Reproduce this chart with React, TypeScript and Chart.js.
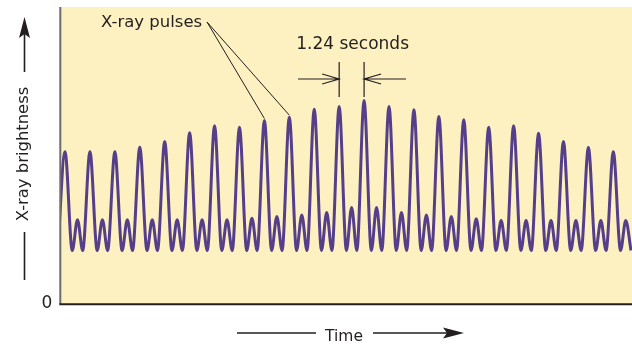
import { useEffect, useRef } from "react";
import { Chart, registerables } from "chart.js";

Chart.register(...registerables);

// Time (s) of each main X-ray pulse peak
const pulseTimes = [
  0.25, 1.49, 2.73, 3.97, 5.21, 6.45, 7.69, 8.93, 10.17, 11.41, 12.65, 13.89,
  15.13, 16.37, 17.61, 18.85, 20.09, 21.33, 22.57, 23.81, 25.05, 26.29, 27.53,
];
// Brightness of each main pulse (0 = bottom axis, 100 = top of plot)
const mainPeaks = [
  51.3, 51.3, 51.3, 52.8, 54.7, 57.7, 60.0, 59.5, 61.8, 62.9, 65.6, 66.5,
  68.5, 66.5, 65.4, 63.1, 62.0, 59.5, 60.0, 57.5, 54.7, 52.7, 51.3,
];
// Brightness of the smaller interpulse following each main pulse
const minorPeaks = [
  28.4, 28.4, 28.4, 28.4, 28.4, 28.4, 28.4, 28.9, 29.5, 30.0, 30.8, 32.5,
  32.5, 30.8, 30.0, 29.5, 28.7, 28.1, 28.1, 28.1, 28.1, 28.1, 28.1,
];
// Brightness at the troughs between pulses (first one precedes the first pulse)
const troughs = [
  18.0, 18.0, 18.0, 18.0, 18.0, 18.0, 18.0, 18.0, 18.0, 18.0, 18.0, 18.0,
  18.0, 18.0, 18.0, 18.0, 18.0, 18.0, 18.0, 18.0, 18.0, 18.0, 18.0, 18.0,
  18.0, 18.0, 18.0, 18.0, 18.0, 18.0, 18.0, 18.0, 18.0, 18.0, 18.0, 18.0,
  18.0, 18.0, 18.0, 18.0, 18.0, 18.0, 18.0, 18.0, 18.0, 18.0, 18.0,
];
const timeMax = 28.46;
const brightnessMax = 100;
const yTickLabels = ["0"];

const BG = "#fdf0c1";
const LINE = "#553f8b";
const INK = "#231f20";
const FONT = '"DejaVu Sans", sans-serif';

function buildPoints() {
  const pts: { x: number; y: number }[] = [];
  pts.push({ x: pulseTimes[0] - 0.36, y: troughs[0] });
  pulseTimes.forEach((t, k) => {
    pts.push({ x: t, y: mainPeaks[k] });
    pts.push({ x: t + 0.36, y: troughs[2 * k + 1] });
    pts.push({ x: t + 0.62, y: minorPeaks[k] });
    pts.push({ x: t + 0.88, y: troughs[2 * k + 2] });
  });
  return pts;
}

const overlay = {
  id: "overlay",
  beforeDatasetsDraw(chart: any) {
    const { ctx, chartArea: a } = chart;
    ctx.save();
    ctx.fillStyle = BG;
    ctx.fillRect(a.left, a.top, a.right - a.left, a.bottom - a.top);
    ctx.restore();
  },
  afterDatasetsDraw(chart: any) {
    const { ctx, chartArea: a, scales } = chart;
    const xs = scales.x;
    const ys = scales.y;
    ctx.save();
    // axes
    ctx.lineWidth = 2;
    ctx.strokeStyle = "#6d6d6d";
    ctx.beginPath();
    ctx.moveTo(a.left + 0.3, a.top);
    ctx.lineTo(a.left + 0.3, a.bottom);
    ctx.stroke();
    ctx.strokeStyle = INK;
    ctx.beginPath();
    ctx.moveTo(a.left - 0.7, a.bottom + 0.3);
    ctx.lineTo(a.right, a.bottom + 0.3);
    ctx.stroke();

    ctx.fillStyle = INK;
    ctx.strokeStyle = INK;

    // y tick label "0"
    ctx.font = `17px ${FONT}`;
    ctx.textAlign = "center";
    ctx.textBaseline = "middle";
    ctx.fillText(yTickLabels[0], 47, ys.getPixelForValue(0));

    // "X-ray pulses" with leader lines
    ctx.font = `16.5px ${FONT}`;
    ctx.textAlign = "left";
    ctx.textBaseline = "alphabetic";
    ctx.fillText("X-ray pulses", 101, 27);
    ctx.lineWidth = 1;
    [8, 9].forEach((k) => {
      ctx.beginPath();
      ctx.moveTo(207, 22);
      ctx.lineTo(xs.getPixelForValue(pulseTimes[k]), ys.getPixelForValue(mainPeaks[k]) - 2);
      ctx.stroke();
    });

    // period dimension
    const xa = xs.getPixelForValue(pulseTimes[11]);
    const xb = xs.getPixelForValue(pulseTimes[12]);
    ctx.font = `17px ${FONT}`;
    ctx.textAlign = "center";
    ctx.fillText("1.24 seconds", (xa + xb) / 2 + 1, 48.5);
    ctx.lineWidth = 1.2;
    ctx.beginPath();
    ctx.moveTo(xa, 62);
    ctx.lineTo(xa, 97);
    ctx.moveTo(xb, 62);
    ctx.lineTo(xb, 97);
    ctx.moveTo(298, 79);
    ctx.lineTo(xa, 79);
    ctx.moveTo(xb, 79);
    ctx.lineTo(406, 79);
    ctx.moveTo(xa - 17, 74);
    ctx.lineTo(xa, 79);
    ctx.lineTo(xa - 17, 84);
    ctx.moveTo(xb + 17, 74);
    ctx.lineTo(xb, 79);
    ctx.lineTo(xb + 17, 84);
    ctx.stroke();

    // y axis title with arrow
    ctx.save();
    ctx.translate(28, 154);
    ctx.rotate(-Math.PI / 2);
    ctx.font = `16.4px ${FONT}`;
    ctx.textAlign = "center";
    ctx.textBaseline = "alphabetic";
    ctx.fillText("X-ray brightness", 0, 0);
    ctx.restore();
    ctx.lineWidth = 1.6;
    ctx.beginPath();
    ctx.moveTo(24.5, 280);
    ctx.lineTo(24.5, 232);
    ctx.moveTo(24.5, 72);
    ctx.lineTo(24.5, 32);
    ctx.stroke();
    ctx.beginPath();
    ctx.moveTo(24.5, 17);
    ctx.lineTo(30, 38);
    ctx.lineTo(24.5, 34);
    ctx.lineTo(19, 38);
    ctx.closePath();
    ctx.fill();

    // x axis title with arrow
    ctx.font = `15.5px ${FONT}`;
    ctx.textAlign = "center";
    ctx.fillText("Time", 344, 341);
    ctx.beginPath();
    ctx.moveTo(237, 333);
    ctx.lineTo(316, 333);
    ctx.moveTo(373, 333);
    ctx.lineTo(448, 333);
    ctx.stroke();
    ctx.beginPath();
    ctx.moveTo(464, 333);
    ctx.lineTo(443, 327.5);
    ctx.lineTo(447, 333);
    ctx.lineTo(443, 338.5);
    ctx.closePath();
    ctx.fill();
    ctx.restore();
  },
};

export default function App() {
  const ref = useRef<HTMLCanvasElement>(null);
  useEffect(() => {
    if (!ref.current) return;
    const chart = new Chart(ref.current, {
      type: "line",
      data: {
        datasets: [
          {
            data: buildPoints(),
            borderColor: LINE,
            borderWidth: 3,
            pointRadius: 0,
            cubicInterpolationMode: "monotone",
            fill: false,
            clip: 0,
          } as any,
        ],
      },
      options: {
        animation: false,
        responsive: false,
        devicePixelRatio: 1,
        layout: { padding: { left: 60, top: 7, right: 0, bottom: 40 } },
        scales: {
          x: { type: "linear", min: 0, max: timeMax, display: false },
          y: { min: 0, max: brightnessMax, display: false },
        },
        plugins: { legend: { display: false }, tooltip: { enabled: false } },
      },
      plugins: [overlay],
    });
    return () => chart.destroy();
  }, []);
  return (
    <div style={{ position: "absolute", left: 0, top: 0, width: 632, height: 344, background: "#fff" }}>
      <canvas ref={ref} width={632} height={344} />
    </div>
  );
}
